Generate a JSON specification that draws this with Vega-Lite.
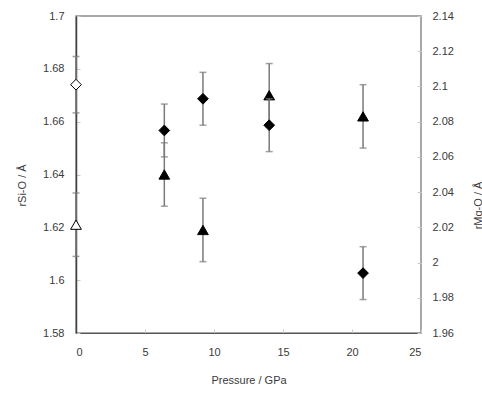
{
  "$schema": "https://vega.github.io/schema/vega-lite/v6.json",
  "width": 345,
  "height": 317,
  "autosize": {"type": "none"},
  "padding": {"left": 76, "top": 16, "right": 61, "bottom": 63},
  "background": "white",
  "config": {
    "view": {"stroke": "#8c8c8c", "strokeWidth": 1.5},
    "font": "Liberation Sans",
    "axis": {
      "labelFont": "Liberation Sans",
      "labelFontSize": 11,
      "labelColor": "#3a3a3a",
      "titleFont": "Liberation Sans",
      "titleFontSize": 11,
      "titleFontWeight": "normal",
      "titleColor": "#3a3a3a",
      "grid": false,
      "tickColor": "#c8c8c8",
      "tickSize": -4,
      "domainColor": "#555555"
    }
  },
  "datasets": {
    "sio": [
      {"pressure": 0, "r": 1.621, "lo": 1.609, "hi": 1.633, "kind": "open"},
      {"pressure": 6.4, "r": 1.640, "lo": 1.628, "hi": 1.652, "kind": "filled"},
      {"pressure": 9.2, "r": 1.619, "lo": 1.607, "hi": 1.631, "kind": "filled"},
      {"pressure": 14, "r": 1.670, "lo": 1.658, "hi": 1.682, "kind": "filled"},
      {"pressure": 20.8, "r": 1.662, "lo": 1.650, "hi": 1.674, "kind": "filled"}
    ],
    "mgo": [
      {"pressure": 0, "r": 2.101, "lo": 2.085, "hi": 2.117, "kind": "open"},
      {"pressure": 6.4, "r": 2.075, "lo": 2.060, "hi": 2.090, "kind": "filled"},
      {"pressure": 9.2, "r": 2.093, "lo": 2.078, "hi": 2.108, "kind": "filled"},
      {"pressure": 14, "r": 2.078, "lo": 2.063, "hi": 2.093, "kind": "filled"},
      {"pressure": 20.8, "r": 1.994, "lo": 1.979, "hi": 2.009, "kind": "filled"}
    ]
  },
  "encoding": {
    "x": {
      "field": "pressure",
      "type": "quantitative",
      "scale": {"domain": [0, 25], "nice": false},
      "axis": {
        "title": "Pressure / GPa",
        "values": [0, 5, 10, 15, 20, 25],
        "labelPadding": 17,
        "domainColor": "#555555",
        "titleY": 47,
        "titleBaseline": "middle"
      }
    }
  },
  "layer": [
    {
      "data": {"name": "sio"},
      "layer": [
        {
          "mark": {"type": "rule", "color": "#7a7a7a", "strokeWidth": 1.5},
          "encoding": {
            "y": {"field": "lo", "type": "quantitative", "scale": {"domain": [1.58, 1.7], "nice": false, "zero": false},
              "axis": {"title": "rSi-O / Å", "values": [1.58, 1.6, 1.62, 1.64, 1.66, 1.68, 1.7], "format": ".2~f", "labelPadding": 16, "domainColor": "#444444", "domainWidth": 1.5, "titleX": -54, "titleY": 169, "titleAngle": -90, "titleBaseline": "middle", "titleAlign": "center"}},
            "y2": {"field": "hi"}
          }
        },
        {
          "mark": {"type": "tick", "orient": "horizontal", "color": "#7a7a7a", "thickness": 1.5, "size": 7},
          "encoding": {
            "y": {"field": "lo", "type": "quantitative", "scale": {"domain": [1.58, 1.7], "nice": false, "zero": false},
              "axis": {"title": "rSi-O / Å", "values": [1.58, 1.6, 1.62, 1.64, 1.66, 1.68, 1.7], "format": ".2~f", "labelPadding": 16, "domainColor": "#444444", "domainWidth": 1.5, "titleX": -54, "titleY": 169, "titleAngle": -90, "titleBaseline": "middle", "titleAlign": "center"}}
          }
        },
        {
          "mark": {"type": "tick", "orient": "horizontal", "color": "#7a7a7a", "thickness": 1.5, "size": 7},
          "encoding": {
            "y": {"field": "hi", "type": "quantitative", "scale": {"domain": [1.58, 1.7], "nice": false, "zero": false},
              "axis": {"title": "rSi-O / Å", "values": [1.58, 1.6, 1.62, 1.64, 1.66, 1.68, 1.7], "format": ".2~f", "labelPadding": 16, "domainColor": "#444444", "domainWidth": 1.5, "titleX": -54, "titleY": 169, "titleAngle": -90, "titleBaseline": "middle", "titleAlign": "center"}}
          }
        },
        {
          "mark": {"type": "point", "shape": "triangle-up", "size": 115, "strokeWidth": 1, "stroke": "black", "opacity": 1},
          "encoding": {
            "y": {"field": "r", "type": "quantitative", "scale": {"domain": [1.58, 1.7], "nice": false, "zero": false},
              "axis": {"title": "rSi-O / Å", "values": [1.58, 1.6, 1.62, 1.64, 1.66, 1.68, 1.7], "format": ".2~f", "labelPadding": 16, "domainColor": "#444444", "domainWidth": 1.5, "titleX": -54, "titleY": 169, "titleAngle": -90, "titleBaseline": "middle", "titleAlign": "center"}},
            "fill": {"field": "kind", "type": "nominal", "scale": {"domain": ["open", "filled"], "range": ["white", "black"]}, "legend": null}
          }
        }
      ]
    },
    {
      "data": {"name": "mgo"},
      "layer": [
        {
          "mark": {"type": "rule", "color": "#7a7a7a", "strokeWidth": 1.5},
          "encoding": {
            "y": {"field": "lo", "type": "quantitative", "scale": {"domain": [1.96, 2.14], "nice": false, "zero": false},
              "axis": {"orient": "right", "title": "rMg-O / Å", "values": [1.96, 1.98, 2, 2.02, 2.04, 2.06, 2.08, 2.1, 2.12, 2.14], "format": ".2~f", "labelPadding": 15, "domain": false, "titleX": 57, "titleY": 189, "titleAngle": 270, "titleBaseline": "middle", "titleAlign": "center"}},
            "y2": {"field": "hi"}
          }
        },
        {
          "mark": {"type": "tick", "orient": "horizontal", "color": "#7a7a7a", "thickness": 1.5, "size": 7},
          "encoding": {
            "y": {"field": "lo", "type": "quantitative", "scale": {"domain": [1.96, 2.14], "nice": false, "zero": false},
              "axis": {"orient": "right", "title": "rMg-O / Å", "values": [1.96, 1.98, 2, 2.02, 2.04, 2.06, 2.08, 2.1, 2.12, 2.14], "format": ".2~f", "labelPadding": 15, "domain": false, "titleX": 57, "titleY": 189, "titleAngle": 270, "titleBaseline": "middle", "titleAlign": "center"}}
          }
        },
        {
          "mark": {"type": "tick", "orient": "horizontal", "color": "#7a7a7a", "thickness": 1.5, "size": 7},
          "encoding": {
            "y": {"field": "hi", "type": "quantitative", "scale": {"domain": [1.96, 2.14], "nice": false, "zero": false},
              "axis": {"orient": "right", "title": "rMg-O / Å", "values": [1.96, 1.98, 2, 2.02, 2.04, 2.06, 2.08, 2.1, 2.12, 2.14], "format": ".2~f", "labelPadding": 15, "domain": false, "titleX": 57, "titleY": 189, "titleAngle": 270, "titleBaseline": "middle", "titleAlign": "center"}}
          }
        },
        {
          "mark": {"type": "point", "shape": "diamond", "size": 115, "strokeWidth": 1, "stroke": "black", "opacity": 1},
          "encoding": {
            "y": {"field": "r", "type": "quantitative", "scale": {"domain": [1.96, 2.14], "nice": false, "zero": false},
              "axis": {"orient": "right", "title": "rMg-O / Å", "values": [1.96, 1.98, 2, 2.02, 2.04, 2.06, 2.08, 2.1, 2.12, 2.14], "format": ".2~f", "labelPadding": 15, "domain": false, "titleX": 57, "titleY": 189, "titleAngle": 270, "titleBaseline": "middle", "titleAlign": "center"}},
            "fill": {"field": "kind", "type": "nominal", "scale": {"domain": ["open", "filled"], "range": ["white", "black"]}, "legend": null}
          }
        }
      ]
    }
  ],
  "resolve": {"scale": {"y": "independent"}, "axis": {"y": "independent"}}
}
